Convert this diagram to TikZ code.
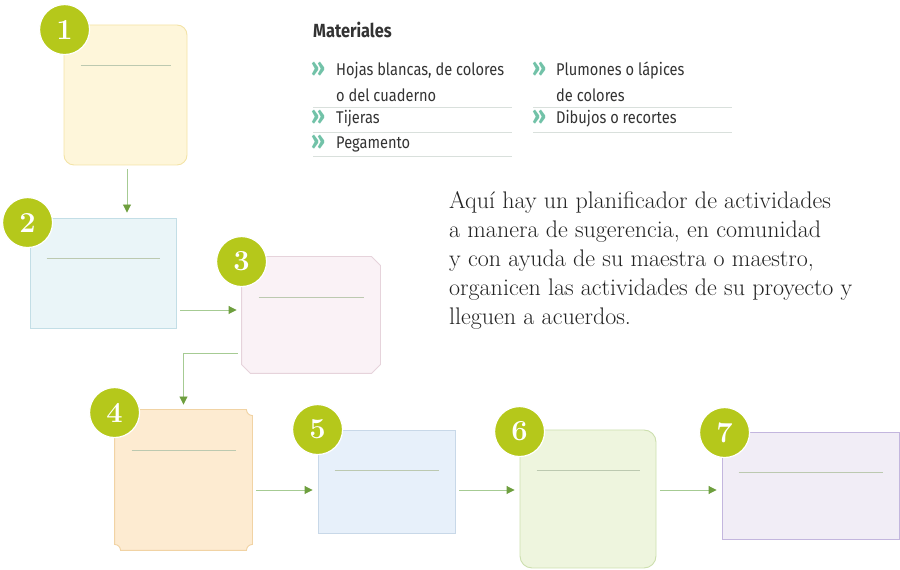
\documentclass[tikz,border=0pt]{standalone}
\usepackage{fontspec}
\newfontfamily\matfont[FakeStretch=0.86]{Fira Sans}
\usepackage{xcolor}
\usepackage{tikz}
\usetikzlibrary{arrows.meta, positioning, calc}

\definecolor{badgegreen}{HTML}{B5C81B}
\definecolor{flowline}{HTML}{A6CB93}
\definecolor{flowtip}{HTML}{6E9F3E}
\definecolor{rulegray}{HTML}{BCC9B0}
\definecolor{sepgray}{HTML}{D9E0DC}
\definecolor{chevgreen}{HTML}{72C2A8}
\definecolor{textgray}{HTML}{333333}
\definecolor{introgray}{HTML}{222222}
\definecolor{oneline}{HTML}{F3E3A6}
\definecolor{onefill}{HTML}{FEF6DA}
\definecolor{twoline}{HTML}{C3DEE6}
\definecolor{twofill}{HTML}{EAF5F8}
\definecolor{threeline}{HTML}{E6D3DB}
\definecolor{threefill}{HTML}{FAF2F6}
\definecolor{fourline}{HTML}{F1D3A4}
\definecolor{fourfill}{HTML}{FDEBD1}
\definecolor{fiveline}{HTML}{C8D8E8}
\definecolor{fivefill}{HTML}{E7F0FA}
\definecolor{sixline}{HTML}{CCDFAE}
\definecolor{sixfill}{HTML}{EEF5DE}
\definecolor{sevenline}{HTML}{C3B6DE}
\definecolor{sevenfill}{HTML}{F1EDF6}

\newcommand{\chev}{\textcolor{chevgreen}{\matfont\fontsize{26}{26}\selectfont\bfseries »}}

\begin{document}
\begin{tikzpicture}[x=1pt, y=1pt,
        stepbox/.style={rectangle, inner sep=0pt, line width=0.9pt},
        badge/.style={circle, fill=badgegreen, draw=white, line width=1.2pt, minimum size=50pt, inner sep=0pt, text=white, font=\fontsize{29}{29}\selectfont\bfseries},
        flow/.style={draw=flowline, line width=0.9pt, -{Triangle[length=8pt, width=8pt, color=flowtip]}, shorten <=4pt, shorten >=5pt},
        rulebar/.style={draw=rulegray, line width=0.9pt},
        sepline/.style={draw=sepgray, line width=0.8pt},
        item/.style={anchor=west, inner sep=0pt, text=textgray, font=\matfont\fontsize{17}{24}\selectfont, align=left}
    ]
        \useasboundingbox (0,0) rectangle (900,570);

        % Step boxes
        \node[stepbox, draw=oneline, rounded corners=10pt, fill=onefill, minimum width=123pt, minimum height=140pt] (b1) at (125.5,475) {};
        \node[stepbox, draw=twoline, fill=twofill, minimum width=146pt, minimum height=110pt] (b2) at (103,297) {};
        \node[stepbox, minimum width=138pt, minimum height=116pt] (b3) at (311,255) {};
        \node[stepbox, minimum width=137pt, minimum height=140pt] (b4) at (183.5,90) {};
        \node[stepbox, draw=fiveline, fill=fivefill, minimum width=137pt, minimum height=103pt] (b5) at (386.5,88.5) {};
        \node[stepbox, draw=sixline, rounded corners=12pt, fill=sixfill, minimum width=136pt, minimum height=138pt] (b6) at (588,71) {};
        \node[stepbox, draw=sevenline, fill=sevenfill, minimum width=177pt, minimum height=107pt] (b7) at (810.5,84.5) {};

        % Box 3 outline with cut corners
        \draw[draw=threeline, fill=threefill, line width=0.9pt]
            ($(b3.north west)+(9,0)$) -- ($(b3.north east)+(-9,0)$) -- ($(b3.north east)+(0,-9)$)
            -- ($(b3.south east)+(0,9)$) -- ($(b3.south east)+(-9,0)$) -- ($(b3.south west)+(9,0)$)
            -- ($(b3.south west)+(0,9)$) -- ($(b3.north west)+(0,-9)$) -- cycle;

        % Box 4 outline with inward corners
        \draw[draw=fourline, fill=fourfill, line width=0.9pt]
            ($(b4.north west)+(6,0)$) -- ($(b4.north east)+(-6,0)$)
            arc[start angle=180, end angle=270, radius=6pt] -- ($(b4.south east)+(0,6)$)
            arc[start angle=90, end angle=180, radius=6pt] -- ($(b4.south west)+(6,0)$)
            arc[start angle=0, end angle=90, radius=6pt] -- ($(b4.north west)+(0,-6)$)
            arc[start angle=270, end angle=360, radius=6pt] -- cycle;

        % Writing lines inside the boxes
        \foreach \b in {b1,b2,b3,b4,b5,b6,b7}
            \draw[rulebar] ($(\b.north west)+(17,-41)$) -- ($(\b.north east)+(-16,-41)$);

        % Flow between the steps
        \coordinate (rowa) at (0,260);
        \coordinate (rowb) at (0,217);
        \coordinate (rowc) at (0,80);
        \draw[flow] ([xshift=1.5pt]b1.south) -- ([xshift=1.5pt]b1.south |- b2.north);
        \draw[flow] (b2.east |- rowa) -- (b3.west |- rowa);
        \draw[flow] (b3.west |- rowb) -| (b4.north);
        \draw[flow] (b4.east |- rowc) -- (b5.west |- rowc);
        \draw[flow] (b5.east |- rowc) -- (b6.west |- rowc);
        \draw[flow] (b6.east |- rowc) -- (b7.west |- rowc);

        % Number badges
        \node[badge] (n1) at ($(b1.north west)+(1,-5)$) {1};
        \node[badge] (n2) at ($(b2.north west)+(-2,-5)$) {2};
        \node[badge] (n3) at ($(b3.north west)+(0,-5)$) {3};
        \node[badge] (n4) at ($(b4.north west)+(0,-3)$) {4};
        \node[badge] (n5) at ($(b5.north west)+(0,0)$) {5};
        \node[badge] (n6) at ($(b6.north west)+(0,-2)$) {6};
        \node[badge] (n7) at ($(b7.north west)+(3,-1)$) {7};

        % Materiales
        \node[anchor=west, inner sep=0pt, text=textgray, font=\matfont\fontsize{19}{19}\selectfont\bfseries] (mat) at (313,540) {Materiales};

        \node[anchor=center, inner sep=0pt] (c1) at (318,501) {\chev};
        \node[anchor=center, inner sep=0pt] (c2) at (318,453) {\chev};
        \node[anchor=center, inner sep=0pt] (c3) at (318,428) {\chev};
        \node[anchor=center, inner sep=0pt] (c4) at (539,501) {\chev};
        \node[anchor=center, inner sep=0pt] (c5) at (539,453) {\chev};

        \node[item] (m1) at (336,499) {Hojas blancas, de colores};
        \node[item] (m1b) at (336,475) {o del cuaderno};
        \node[item] (m2) at (336,451) {Tijeras};
        \node[item] (m3) at (336,426) {Pegamento};
        \node[item] (m4) at (556,499) {Plumones o lápices};
        \node[item] (m4b) at (556,475) {de colores};
        \node[item] (m5) at (556,451) {Dibujos o recortes};

        \draw[sepline] (313,463) -- (512,463);
        \draw[sepline] (313,438) -- (512,438);
        \draw[sepline] (313,414) -- (512,414);
        \draw[sepline] (533,463) -- (732,463);
        \draw[sepline] (533,438) -- (732,438);

        % Text
        \node[anchor=north west, inner sep=0pt, align=left, text=introgray, font=\fontsize{24}{29}\selectfont] (intro) at (449,379)
            {Aquí hay un planificador de actividades\\
             a manera de sugerencia, en comunidad\\
             y con ayuda de su maestra o maestro,\\
             organicen las actividades de su proyecto y\\
             lleguen a acuerdos.};

    \end{tikzpicture}
\end{document}
